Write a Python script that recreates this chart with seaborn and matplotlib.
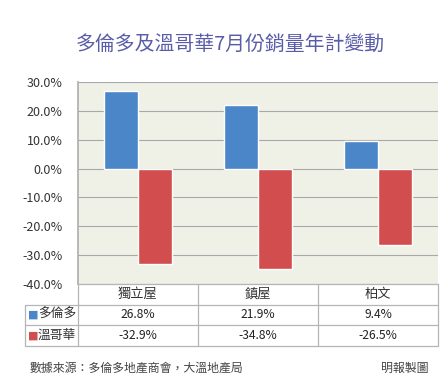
import pandas as pd
import matplotlib
matplotlib.use("Agg")
import matplotlib.pyplot as plt
import seaborn as sns

# data
areas = ["獨立屋", "鎮屋", "柏文"]
cities = ["多倫多", "溫哥華"]
toronto = [26.8, 21.9, 9.4]
vancouver = [-32.9, -34.8, -26.5]
yticks = [30, 20, 10, 0, -10, -20, -30, -40]

title = "多倫多及溫哥華7月份銷量年計變動"
source = "數據來源：多倫多地產商會，大溫地產局"
credit = "明報製圖"

colors = ["#4a86c8", "#d24d4d"]

sns.set_theme(style="white")
plt.rcParams["font.family"] = ["Noto Sans CJK TC", "DejaVu Sans"]

df = pd.DataFrame({
    "area": areas * 2,
    "city": [cities[0]] * 3 + [cities[1]] * 3,
    "value": toronto + vancouver,
})

fig = plt.figure(figsize=(4.46, 3.86), dpi=100)
fig.patch.set_facecolor("white")

# ---- bar chart ----
ax = fig.add_axes([78 / 446, 102 / 386, 360 / 446, 202 / 386])
ax.set_facecolor("#eff1e7")
sns.barplot(data=df, x="area", y="value", hue="city", palette=colors,
            width=0.57, ax=ax, legend=False, saturation=1)
ax.set_ylim(-40, 30)
ax.set_xlim(-0.5, 2.5)
ax.set_yticks(yticks)
ax.set_yticklabels([f"{v:.1f}%" for v in yticks], fontsize=9, color="#333333")
ax.set_xticks([])
ax.set_xlabel("")
ax.set_ylabel("")
ax.yaxis.grid(True, color="#a8a8a8", linewidth=0.8)
ax.set_axisbelow(True)
ax.tick_params(axis="y", length=0, pad=11)
for s in ["top", "right", "bottom"]:
    ax.spines[s].set_visible(False)
ax.spines["left"].set_color("#b0b0b0")

# ---- data table below ----
tx0, tx1 = 25 / 446, 438 / 446
cx = 78 / 446
col_w = (tx1 - cx) / 3
row_top = 102 / 386
row_h = 20.5 / 386
line_c = "#b5b5b5"

def hline(y, x0, x1):
    fig.add_artist(plt.Line2D([x0, x1], [y, y], color=line_c, lw=0.9))

def vline(x, y0, y1):
    fig.add_artist(plt.Line2D([x, x], [y0, y1], color=line_c, lw=0.9))

hline(row_top, cx, tx1)
hline(row_top - row_h, tx0, tx1)
hline(row_top - 2 * row_h, tx0, tx1)
hline(row_top - 3 * row_h, tx0, tx1)
vline(tx0, row_top - 3 * row_h, row_top - row_h)
for i in range(4):
    vline(cx + i * col_w, row_top - 3 * row_h, row_top)

for i, a in enumerate(areas):
    fig.text(cx + (i + 0.5) * col_w, row_top - 0.5 * row_h, a,
             ha="center", va="center", fontsize=9.5, color="#333333")

for r, (name, vals) in enumerate(zip(cities, [toronto, vancouver])):
    yc = row_top - (r + 1.5) * row_h
    fig.text(tx0 + 3 / 446, yc, "■", ha="left", va="center",
             fontsize=8, color=colors[r], family="DejaVu Sans")
    fig.text(tx0 + 13 / 446, yc, name, ha="left", va="center",
             fontsize=9.2, color="#333333")
    for i, v in enumerate(vals):
        fig.text(cx + (i + 0.5) * col_w, yc, f"{v:.1f}%",
                 ha="center", va="center", fontsize=8.7, color="#222222")

# ---- title and footer ----
fig.text(230 / 446, 1 - 44 / 386, title, ha="center", va="center",
         fontsize=14.3, color="#5a5ca8")
fig.text(30 / 446, 1 - 368 / 386, source, ha="left", va="center",
         fontsize=8.6, color="#444444")
fig.text(428 / 446, 1 - 368 / 386, credit, ha="right", va="center",
         fontsize=8.6, color="#444444")

fig.savefig("out.png", dpi=100, facecolor="white")
